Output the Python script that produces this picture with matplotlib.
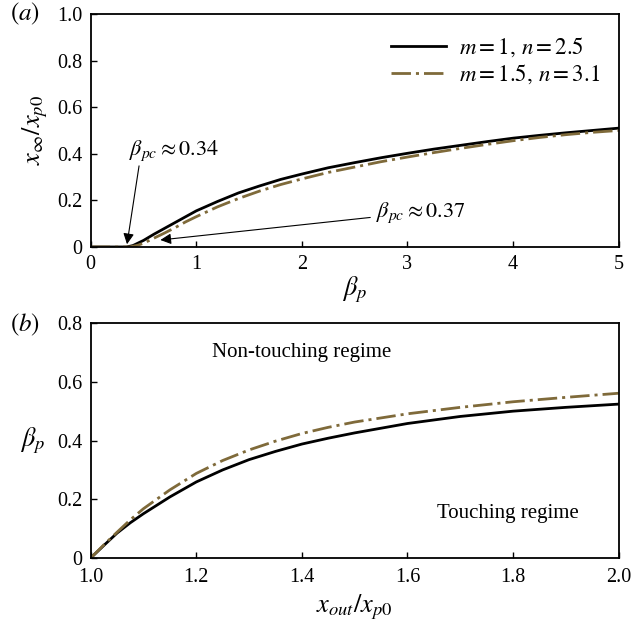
import matplotlib
matplotlib.use("Agg")
import matplotlib.pyplot as plt

plt.rcParams["font.family"] = ["Liberation Serif", "DejaVu Serif"]
plt.rcParams["mathtext.fontset"] = "stix"
plt.rcParams["font.size"] = 14

# panel (a): x_inf / x_p0 versus beta_p
beta_s = [0.0, 0.34, 0.4, 0.5, 0.6, 0.7, 0.8, 0.9, 1.0, 1.2, 1.4, 1.6, 1.8, 2.0, 2.25, 2.5,
          2.75, 3.0, 3.25, 3.5, 3.75, 4.0, 4.25, 4.5, 4.75, 5.0]
xinf_solid = [0.0, 0.0, 0.006, 0.028, 0.055, 0.08, 0.105, 0.13, 0.155, 0.195, 0.232, 0.262, 0.29,
              0.313, 0.34, 0.362, 0.383, 0.402, 0.42, 0.436, 0.452, 0.467, 0.479, 0.49, 0.5, 0.51]
beta_d = [0.0, 0.37, 0.45, 0.5, 0.6, 0.7, 0.8, 0.9, 1.0, 1.2, 1.4, 1.6, 1.8, 2.0, 2.25, 2.5,
          2.75, 3.0, 3.25, 3.5, 3.75, 4.0, 4.25, 4.5, 4.75, 5.0]
xinf_dash = [0.0, 0.0, 0.008, 0.016, 0.038, 0.06, 0.083, 0.108, 0.13, 0.172, 0.208, 0.24, 0.268,
             0.292, 0.32, 0.343, 0.366, 0.386, 0.405, 0.423, 0.44, 0.456, 0.47, 0.482, 0.492, 0.50]

# panel (b): beta_p versus x_out / x_p0
xout = [1.0, 1.025, 1.05, 1.075, 1.1, 1.15, 1.2, 1.25, 1.3, 1.35, 1.4, 1.45, 1.5, 1.6, 1.7,
        1.8, 1.9, 2.0]
betap_solid = [0.0, 0.043, 0.085, 0.12, 0.151, 0.208, 0.259, 0.3, 0.335, 0.363, 0.388, 0.408,
               0.426, 0.458, 0.482, 0.50, 0.513, 0.524]
betap_dash = [0.0, 0.045, 0.088, 0.13, 0.168, 0.232, 0.288, 0.332, 0.368, 0.398, 0.424, 0.445,
              0.463, 0.491, 0.513, 0.532, 0.547, 0.561]

black = "black"
olive = "#7f6a3a"
dashdot = (0, (7, 1.8, 1.1, 1.8))

fig = plt.figure(figsize=(6.31, 6.21), dpi=100)
ax_a = fig.add_axes([0.1437, 0.6023, 0.8368, 0.3752])
ax_b = fig.add_axes([0.1437, 0.1014, 0.8368, 0.3784])

for ax in (ax_a, ax_b):
    ax.tick_params(direction="in", length=4.5, width=1, labelsize=14.5, top=False, right=False, pad=6)
    for s in ax.spines.values():
        s.set_linewidth(1.3)

# (a)
ax_a.plot(beta_s, xinf_solid, color=black, lw=2.0, label=r"$m=1,\, n=2.5$")
ax_a.plot(beta_d, xinf_dash, color=olive, lw=2.0, linestyle=dashdot, label=r"$m=1.5,\, n=3.1$")
ax_a.set_xlim(0, 5)
ax_a.set_ylim(0, 1.0)
ax_a.set_xticks([0, 1, 2, 3, 4, 5])
ax_a.set_yticks([0, 0.2, 0.4, 0.6, 0.8, 1.0])
ax_a.set_yticklabels(["0", "0.2", "0.4", "0.6", "0.8", "1.0"])
ax_a.set_xlabel(r"$\beta_p$", fontsize=19, labelpad=0)
ax_a.set_ylabel(r"$x_\infty/x_{p0}$", fontsize=19, labelpad=5)
ax_a.legend(loc="upper right", bbox_to_anchor=(1.0, 0.985), frameon=False, fontsize=16.5,
            handlelength=2.4, borderaxespad=0.4, labelspacing=0.12, handletextpad=0.6)
ax_a.annotate(r"$\beta_{pc} \approx 0.34$", xy=(0.34, 0.0), xytext=(0.36, 0.36),
              fontsize=16, ha="left", va="bottom",
              arrowprops=dict(arrowstyle="-|>", color="black", lw=0.8, mutation_scale=16,
                              shrinkA=0, shrinkB=2, relpos=(0.12, 0.0)))
ax_a.annotate(r"$\beta_{pc} \approx 0.37$", xy=(0.66, 0.03), xytext=(2.7, 0.145),
              fontsize=16, ha="left", va="center",
              arrowprops=dict(arrowstyle="-|>", color="black", lw=0.8, mutation_scale=16,
                              shrinkA=2, shrinkB=0, relpos=(0.0, 0.35)))
fig.text(0.016, 0.977, r"$(a)$", fontsize=18, va="center")

# (b)
ax_b.plot(xout, betap_solid, color=black, lw=2.0)
ax_b.plot(xout, betap_dash, color=olive, lw=2.0, linestyle=dashdot)
ax_b.set_xlim(1.0, 2.0)
ax_b.set_ylim(0, 0.8)
ax_b.set_xticks([1.0, 1.2, 1.4, 1.6, 1.8, 2.0])
ax_b.set_xticklabels(["1.0", "1.2", "1.4", "1.6", "1.8", "2.0"])
ax_b.set_yticks([0, 0.2, 0.4, 0.6, 0.8])
ax_b.set_yticklabels(["0", "0.2", "0.4", "0.6", "0.8"])
ax_b.tick_params(axis="x", pad=7)
ax_b.set_xlabel(r"$x_{out}/x_{p0}$", fontsize=19, labelpad=4)
ax_b.set_ylabel(r"$\beta_p$", fontsize=19, rotation=0, labelpad=18, va="center")
ax_b.text(1.40, 0.70, "Non-touching regime", fontsize=15, ha="center", va="center")
ax_b.text(1.79, 0.153, "Touching regime", fontsize=15, ha="center", va="center")
fig.text(0.016, 0.477, r"$(b)$", fontsize=18, va="center")

fig.savefig("out.png", dpi=100)
